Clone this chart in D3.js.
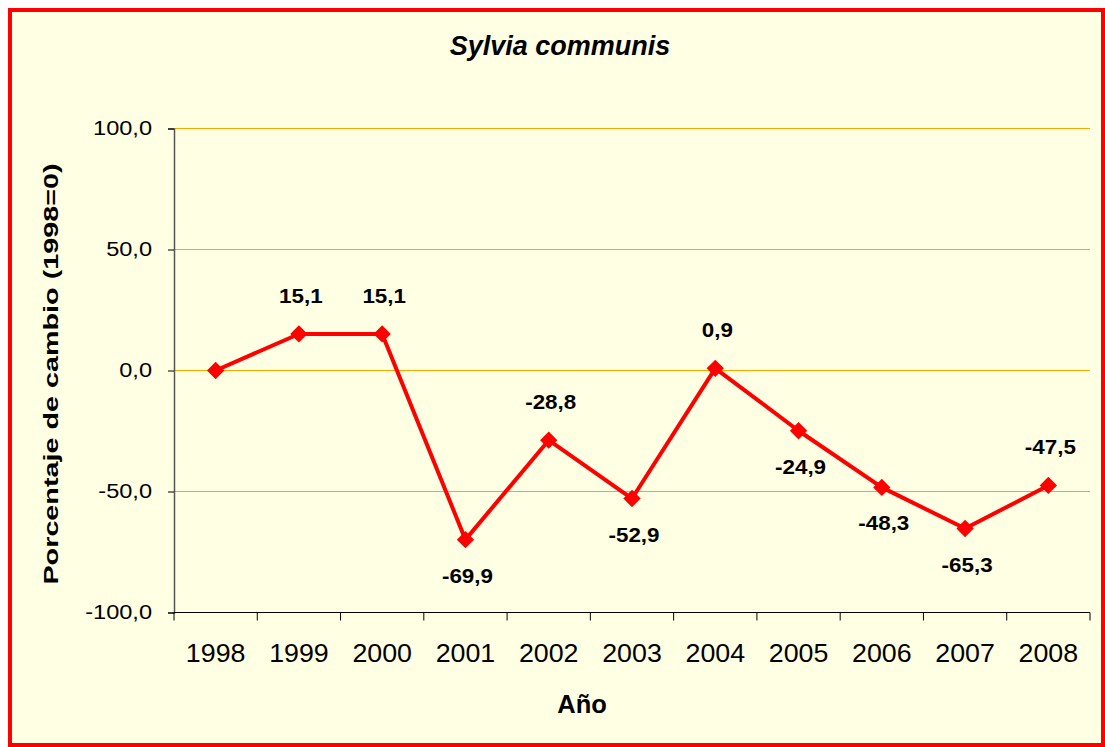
<!DOCTYPE html>
<html>
<head>
<meta charset="utf-8">
<script src="https://cdn.jsdelivr.net/npm/d3@7"></script>
<style>
  html, body { margin: 0; padding: 0; background: #ffffff; }
  svg { display: block; }
  text { font-family: "Liberation Sans", Arial, sans-serif; fill: #000; }
</style>
</head>
<body>
<svg id="chart" width="1105" height="747"></svg>
<script>
// Sylvia communis: population change relative to 1998
const years = ["1998", "1999", "2000", "2001", "2002", "2003", "2004", "2005", "2006", "2007", "2008"];
const change = [0, 15.1, 15.1, -69.9, -28.8, -52.9, 0.9, -24.9, -48.3, -65.3, -47.5];
// where each value label sits relative to its marker ("" = no label)
const labelSide = ["", "top", "top", "bottom", "top", "bottom", "top", "bottom", "bottom", "bottom", "top"];
const yTicks = [-100, -50, 0, 50, 100];

const titleText = "Sylvia communis";
const xTitle = "Año";
const yTitle = "Porcentaje de cambio (1998=0)";

const locale = d3.formatLocale({ decimal: ",", thousands: ".", grouping: [3], currency: ["", " €"], minus: "-" });
const fmt = locale.format(".1f");

const svg = d3.select("#chart");

// chart area with red frame
svg.append("rect")
  .attr("x", 10).attr("y", 10)
  .attr("width", 1093).attr("height", 735)
  .attr("fill", "#FFFFE3")
  .attr("stroke", "#FF0000")
  .attr("stroke-width", 4);

const plot = { left: 174, right: 1090, top: 128.5, bottom: 612.5 };

const x = d3.scaleBand().domain(years).range([plot.left, plot.right]).padding(0);
const y = d3.scaleLinear().domain([-100, 100]).range([plot.bottom, plot.top]);

// helper: text horizontally stretched around its anchor point
function stretchedText(parent, px, py, str, opts) {
  const g = parent.append("g")
    .attr("transform", `translate(${px},${py})` + (opts.rotate ? ` rotate(${opts.rotate})` : ""));
  g.append("text")
    .attr("transform", `scale(${opts.sx || 1},1)`)
    .attr("text-anchor", opts.anchor || "middle")
    .attr("font-size", opts.size)
    .attr("font-weight", opts.weight || "normal")
    .attr("font-style", opts.style || "normal")
    .text(str);
  return g;
}

// horizontal gridlines
svg.append("g")
  .selectAll("line")
  .data(yTicks.filter(t => t > -100))
  .join("line")
  .attr("x1", plot.left).attr("x2", plot.right)
  .attr("y1", d => y(d)).attr("y2", d => y(d))
  .attr("stroke", "#FFA500")
  .attr("stroke-width", 1);

// y axis
const yAxis = svg.append("g")
  .attr("transform", `translate(${plot.left},0)`)
  .call(d3.axisLeft(y).tickValues(yTicks).tickSize(6).tickFormat(""));
yAxis.select(".domain").attr("stroke", "#555").attr("stroke-width", 1.5);
yAxis.selectAll(".tick line").attr("stroke", "#000");
yTicks.forEach(t => {
  stretchedText(svg, 152, y(t) + 6, fmt(t), { size: 20.5, anchor: "end", sx: 1.15 });
});

// x axis: ticks at category boundaries
const xAxisG = svg.append("g").attr("transform", `translate(0,${plot.bottom})`);
xAxisG.append("line")
  .attr("x1", plot.left).attr("x2", plot.right)
  .attr("y1", 0).attr("y2", 0)
  .attr("stroke", "#000").attr("stroke-width", 1.2);
const bounds = years.map(d => x(d)).concat([x(years[years.length - 1]) + x.bandwidth()]);
xAxisG.selectAll("line.tk")
  .data(bounds)
  .join("line")
  .attr("class", "tk")
  .attr("x1", d => d).attr("x2", d => d)
  .attr("y1", 0).attr("y2", 8)
  .attr("stroke", "#000").attr("stroke-width", 1);
years.forEach(yr => {
  stretchedText(svg, x(yr) + x.bandwidth() / 2, 662, yr, { size: 25.5, sx: 1.05 });
});

// series line
const cx = (d, i) => x(years[i]) + x.bandwidth() / 2;
const line = d3.line().x((d, i) => cx(d, i)).y(d => y(d));
svg.append("path")
  .datum(change)
  .attr("d", line)
  .attr("fill", "none")
  .attr("stroke", "#FF0000")
  .attr("stroke-width", 4)
  .attr("stroke-linejoin", "round");

// diamond markers
svg.append("g")
  .selectAll("path")
  .data(change)
  .join("path")
  .attr("d", d3.symbol(d3.symbolSquare, 150)())
  .attr("transform", (d, i) => `translate(${cx(d, i)},${y(d)}) rotate(45)`)
  .attr("fill", "#FF0000");

// value labels
change.forEach((v, i) => {
  if (!labelSide[i]) return;
  const yy = labelSide[i] === "top" ? y(v) - 31 : y(v) + 43;
  stretchedText(svg, cx(v, i) + 2, yy, fmt(v), { size: 20, weight: "bold", sx: 1.12 });
});

// titles
stretchedText(svg, 560, 55, titleText, { size: 27, weight: "bold", style: "italic" });
stretchedText(svg, 582, 713, xTitle, { size: 25.5, weight: "bold" });
stretchedText(svg, 58, 374, yTitle, { size: 21, weight: "bold", sx: 1.37, rotate: -90 });
</script>
</body>
</html>
